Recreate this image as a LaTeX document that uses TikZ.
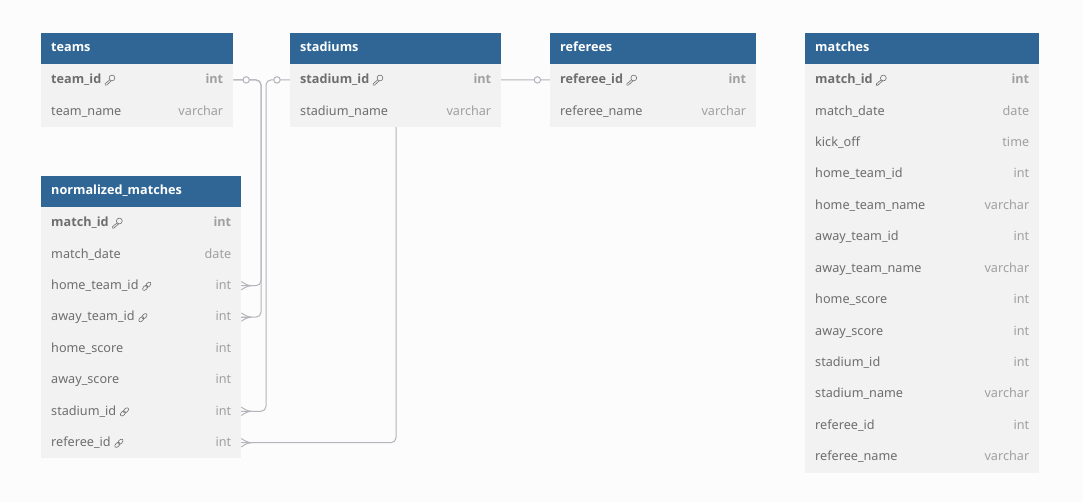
\documentclass[tikz,border=0pt]{standalone}
\usepackage{fontspec}
\setmainfont{Noto Sans}
\newfontfamily\strongfont{Open Sans}[BoldFont={Open Sans Bold}]
\pgfdeclarelayer{paper}
\pgfdeclarelayer{links}
\pgfsetlayers{paper,links,main}
\definecolor{headblue}{HTML}{2F6696}
\definecolor{rowgrey}{HTML}{F2F2F2}
\definecolor{pagegrey}{HTML}{FCFCFC}
\definecolor{namegrey}{HTML}{6E6E6E}
\definecolor{typegrey}{HTML}{A0A0A0}
\definecolor{linkgrey}{HTML}{B4B4BC}
\newcommand{\plainsize}{\fontsize{12.65}{15}\selectfont}
\newcommand{\strongsize}{\fontsize{12.65}{15}\selectfont\strongfont\bfseries}
\tikzset{
  x=1pt,y=-1pt,
  textbase/.style={inner sep=0pt,text height=10pt,text depth=3pt},
  headbox/.style={anchor=north west,inner sep=0pt,fill=headblue,draw=none},
  rowbox/.style={anchor=north west,inner sep=0pt,fill=rowgrey,draw=none},
  headtext/.style={textbase,anchor=west,text=white,font=\strongsize},
  namepk/.style={textbase,anchor=west,text=namegrey,font=\strongsize},
  namefk/.style={textbase,anchor=west,text=namegrey,font=\plainsize},
  nameno/.style={textbase,anchor=west,text=namegrey,font=\plainsize},
  typepk/.style={textbase,anchor=east,text=typegrey,font=\strongsize},
  typefk/.style={textbase,anchor=east,text=typegrey,font=\plainsize},
  typeno/.style={textbase,anchor=east,text=typegrey,font=\plainsize},
  iconline/.style={draw=namegrey,line width=.6pt},
  linkline/.style={draw=linkgrey,line width=1pt,rounded corners=5pt},
  iconpk/.pic={
    \draw[iconline] (7.5,-2.2) circle (2.9);
    \draw[iconline,line join=round] (5.3,-.4) -- (.6,3.6) -- (.6,5) -- (2,5) -- (6.8,.6);
  },
  iconfk/.pic={
    \draw[iconline,rotate=45] (-2.2,0) ellipse (3.1 and 1.9);
    \draw[iconline,rotate=45] (2.2,0) ellipse (3.1 and 1.9);
  },
  iconno/.pic={},
  crowfoot/.pic={
    \draw[linkgrey,line width=1pt] (10,0) .. controls (7,0) and (3,-1.8) .. (0,-4.2);
    \draw[linkgrey,line width=1pt] (10,0) -- (0,0);
    \draw[linkgrey,line width=1pt] (10,0) .. controls (7,0) and (3,1.8) .. (0,4.2);
  },
  ringmark/.style={circle,draw=linkgrey,fill=pagegrey,line width=1pt,minimum size=6.4pt,inner sep=0pt},
  iconshiftpk/.style={xshift=3pt},
  iconshiftfk/.style={xshift=8pt,yshift=-.3pt},
  iconshiftno/.style={},
}
% id, x, top, width, row height, title, rows
\newcommand{\dbtable}[7]{%
  \node[headbox,minimum width=#4pt,minimum height=31pt] (#1) at (#2,#3) {};
  \node[headtext] (#1-title) at ([xshift=10pt,yshift=.5pt]#1.west) {#6};
  \foreach \rn/\rt/\rf [count=\ri] in {#7} {
    \pgfmathsetmacro{\ry}{#3+31+(\ri-1)*#5}
    \node[rowbox,minimum width=#4pt,minimum height=#5pt] (#1-\ri) at (#2,\ry) {};
    \node[name\rf] (#1-\ri-name) at ([xshift=10pt,yshift=-.3pt]#1-\ri.west) {\rn};
    \node[type\rf] (#1-\ri-type) at ([xshift=-10pt,yshift=-.3pt]#1-\ri.east) {\rt};
    \pic at ([iconshift\rf]#1-\ri-name.east) {icon\rf};
  }
}
\begin{document}
\begin{tikzpicture}
\useasboundingbox (0,0) rectangle (1083,502);
\begin{pgfonlayer}{paper}
  \fill[pagegrey] (0,0) rectangle (1083,502);
\end{pgfonlayer}

\dbtable{teams}{41}{33}{192}{31.4}{teams}{team\_id/int/pk,team\_name/varchar/no}
\dbtable{stadiums}{290}{33}{211}{31.4}{stadiums}{stadium\_id/int/pk,stadium\_name/varchar/no}
\dbtable{referees}{550}{33}{206}{31.4}{referees}{referee\_id/int/pk,referee\_name/varchar/no}
\dbtable{norm}{41}{176}{200}{31.4}{normalized\_matches}{match\_id/int/pk,match\_date/date/no,home\_team\_id/int/fk,away\_team\_id/int/fk,home\_score/int/no,away\_score/int/no,stadium\_id/int/fk,referee\_id/int/fk}
\dbtable{matches}{805}{33}{234}{31.42}{matches}{match\_id/int/pk,match\_date/date/no,kick\_off/time/no,home\_team\_id/int/no,home\_team\_name/varchar/no,away\_team\_id/int/no,away\_team\_name/varchar/no,home\_score/int/no,away\_score/int/no,stadium\_id/int/no,stadium\_name/varchar/no,referee\_id/int/no,referee\_name/varchar/no}

\coordinate (busteams) at (261,0);
\coordinate (busstadiums) at (266,0);
\coordinate (busreferees) at (396,0);
\begin{pgfonlayer}{links}
  \draw[linkline] (teams-1.east) -- (teams-1.east -| busteams) -- (norm-3.east -| busteams) -- (norm-3.east);
  \draw[linkline] (teams-1.east) -- (teams-1.east -| busteams) -- (norm-4.east -| busteams) -- (norm-4.east);
  \draw[linkline] (stadiums-1.west) -- (stadiums-1.west -| busstadiums) -- (norm-7.east -| busstadiums) -- (norm-7.east);
  \draw[linkline] (referees-1.west) -- (referees-1.west -| busreferees) -- (norm-8.east -| busreferees) -- (norm-8.east);
\end{pgfonlayer}
\node[ringmark] (ringteams) at ([xshift=12.8pt]teams-1.east) {};
\node[ringmark] (ringstadiums) at ([xshift=-13pt]stadiums-1.west) {};
\node[ringmark] (ringreferees) at ([xshift=-12.6pt]referees-1.west) {};
\pic at (norm-3.east) {crowfoot};
\pic at (norm-4.east) {crowfoot};
\pic at (norm-7.east) {crowfoot};
\pic at (norm-8.east) {crowfoot};
\end{tikzpicture}
\end{document}
